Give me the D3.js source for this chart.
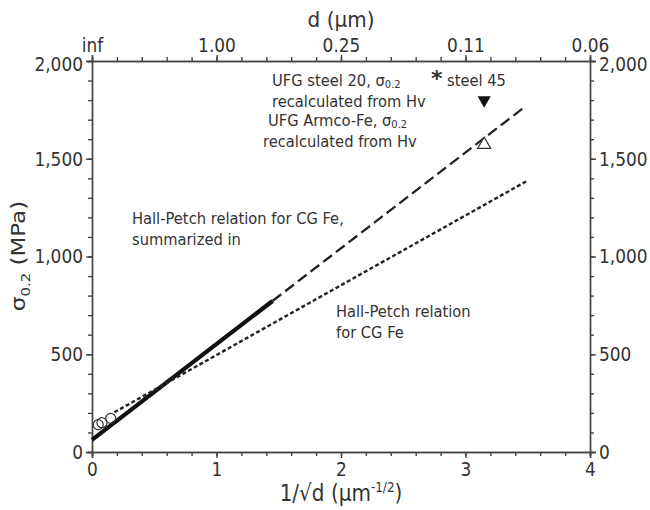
<!DOCTYPE html>
<html><head><meta charset="utf-8">
<script src="https://cdn.jsdelivr.net/npm/d3@7"></script>
<style>body{margin:0;background:#fff}svg{display:block}text{font-family:"DejaVu Sans",Verdana,sans-serif;fill:#333}</style>
</head><body>
<svg id="c" width="650" height="510"></svg>
<script>
// ---- data ----
const xTicks = [0, 1, 2, 3, 4];
const topTickLabels = ["inf", "1.00", "0.25", "0.11", "0.06"];
const yTicks = [0, 500, 1000, 1500, 2000];
// Hall-Petch fits: [intercept MPa, slope MPa*um^1/2]
const ufgLine = {s0: 62, k: 490};
const solidRange = [0, 1.45];
const dashRange = [1.45, 3.48];
const cgLine = {s0: 139, k: 357};
const cgRange = [0.18, 3.5];
const cgPoints = [[0.05, 140], [0.08, 150], [0.15, 172]];
const armcoPoint = [3.15, 1572];
const steel20Point = [3.15, 1800];
const steel45Point = [2.77, 1920];

const S = 1.15; // vertical stretch of lettering
const SA = 1.1; // stretch for annotations
const svg = d3.select("#c");
const x = d3.scaleLinear().domain([0, 4]).range([92, 590]);
const y = d3.scaleLinear().domain([0, 2000]).range([452, 61]);
const axisCol = "#444";

function styleAxis(g, shiftTop){
  g.selectAll("path,line").attr("stroke", axisCol).attr("stroke-width", 1.4);
  g.selectAll(".tick text").each(function(d){
    const t = d3.select(this);
    if (!t.text()) return;
    let yy = +t.attr("y") || 0;
    if (shiftTop && d === 2000) yy += 3;
    t.attr("fill", "#333").style("font-size", "17px")
     .attr("transform", `translate(0,${yy}) scale(1,${S})`).attr("y", 0);
  });
}
const minorX = d3.range(0, 4.001, 0.2);
const minorY = d3.range(0, 2001, 100);
// bottom
const gb = svg.append("g").attr("transform", `translate(0,${y(0)})`);
gb.call(d3.axisBottom(x).tickValues(minorX).tickSize(4).tickFormat(""));
gb.append("g").call(d3.axisBottom(x).tickValues(xTicks).tickSize(6).tickPadding(4).tickFormat(d3.format("d")));
styleAxis(gb);
// top
const gt = svg.append("g").attr("transform", `translate(0,${y(2000)})`);
gt.call(d3.axisTop(x).tickValues(minorX).tickSize(4).tickFormat(""));
gt.append("g").call(d3.axisTop(x).tickValues(xTicks).tickSize(6).tickPadding(3).tickFormat((d,i)=>topTickLabels[i]));
styleAxis(gt);
// left
const gl = svg.append("g").attr("transform", `translate(${x(0)},0)`);
gl.call(d3.axisLeft(y).tickValues(minorY).tickSize(4).tickFormat(""));
gl.append("g").call(d3.axisLeft(y).tickValues(yTicks).tickSize(6).tickPadding(3).tickFormat(d3.format(",")));
styleAxis(gl, true);
// right
const gr = svg.append("g").attr("transform", `translate(${x(4)},0)`);
gr.call(d3.axisRight(y).tickValues(minorY).tickSize(4).tickFormat(""));
gr.append("g").call(d3.axisRight(y).tickValues(yTicks).tickSize(6).tickPadding(3).tickFormat(d3.format(",")));
styleAxis(gr, true);

function stext(px, py, size, rot, s){
  s = s || S;
  return svg.append("text")
    .attr("transform", `translate(${px},${py})${rot ? " rotate(" + rot + ")" : ""} scale(${rot ? s + ",1" : "1," + s})`)
    .style("font-size", size);
}
// titles
stext(341, 27, "20px", 0, 1.1).attr("text-anchor", "middle").text("d (μm)");
const bt = stext(341, 501, "20px").attr("text-anchor", "middle");
bt.append("tspan").text("1/√d (μm");
bt.append("tspan").attr("dy", -8).style("font-size", "12px").text("-1/2");
bt.append("tspan").attr("dy", 8).text(")");
const lt = stext(25, 256, "20px", -90).attr("text-anchor", "middle");
lt.append("tspan").text("σ");
lt.append("tspan").attr("dy", 5).style("font-size", "13px").text("0.2");
lt.append("tspan").attr("dy", -5).text(" (MPa)");

// lines
const line = d3.line().x(d => x(d[0])).y(d => y(d[1]));
const f = (L, xv) => [xv, L.s0 + L.k * xv];
svg.append("path").datum(solidRange.map(v => f(ufgLine, v))).attr("d", line)
  .attr("stroke", "#111").attr("stroke-width", 4.2).attr("fill", "none");
svg.append("path").datum(dashRange.map(v => f(ufgLine, v))).attr("d", line)
  .attr("stroke", "#222").attr("stroke-width", 2.3).attr("fill", "none").attr("stroke-dasharray", "11,5");
svg.append("path").datum(cgRange.map(v => f(cgLine, v))).attr("d", line)
  .attr("stroke", "#222").attr("stroke-width", 2.4).attr("fill", "none").attr("stroke-dasharray", "4,2.5");

// points
svg.selectAll("circle.cg").data(cgPoints).enter().append("circle")
  .attr("cx", d => x(d[0])).attr("cy", d => y(d[1])).attr("r", 5)
  .attr("fill", "none").attr("stroke", "#333").attr("stroke-width", 1.2);
const tri = d3.symbol().type(d3.symbolTriangle).size(75);
svg.append("path").attr("d", tri).attr("transform", `translate(${x(armcoPoint[0])},${y(armcoPoint[1])})`)
  .attr("fill", "#fff").attr("stroke", "#333").attr("stroke-width", 1.2);
svg.append("path").attr("d", tri).attr("transform", `translate(${x(steel20Point[0])},${y(steel20Point[1])}) rotate(180)`)
  .attr("fill", "#111");
svg.append("text").attr("x", x(steel45Point[0])).attr("y", y(steel45Point[1]) + 9).attr("text-anchor", "middle")
  .style("font-size", "22px").style("font-weight", "bold").attr("fill", "#222").text("*");

// annotations
const fs = "14.7px";
const a1 = stext(272, 86, fs, 0, SA);
a1.append("tspan").text("UFG steel 20, σ");
a1.append("tspan").attr("dy", 2).style("font-size", "10px").text("0.2");
stext(272, 107, fs, 0, SA).text("recalculated from Hv");
const a2 = stext(268, 126, fs, 0, SA);
a2.append("tspan").text("UFG Armco-Fe, σ");
a2.append("tspan").attr("dy", 2).style("font-size", "10px").text("0.2");
stext(263, 147, fs, 0, SA).text("recalculated from Hv");
stext(447, 86, fs, 0, SA).text("steel 45");
stext(132, 224, fs, 0, SA).text("Hall-Petch relation for CG Fe,");
stext(132, 245, fs, 0, SA).text("summarized in");
stext(336, 317, fs, 0, SA).text("Hall-Petch relation");
stext(336, 338, fs, 0, SA).text("for CG Fe");
</script>
</body></html>
